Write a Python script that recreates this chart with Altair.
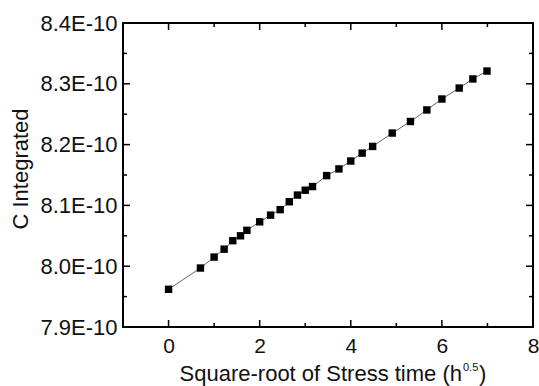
import altair as alt
import pandas as pd

# ---- data ----
x_sqrt_time = [0.0, 0.70, 1.0, 1.22, 1.41, 1.58, 1.72, 2.0, 2.24, 2.45, 2.65, 2.83, 3.0,
               3.16, 3.47, 3.74, 4.0, 4.25, 4.48, 4.91, 5.31, 5.67, 6.0, 6.38, 6.68, 6.99]
c_integrated = [7.962e-10, 7.997e-10, 8.015e-10, 8.028e-10, 8.042e-10, 8.050e-10, 8.059e-10,
                8.073e-10, 8.084e-10, 8.093e-10, 8.106e-10, 8.117e-10, 8.125e-10, 8.131e-10,
                8.149e-10, 8.160e-10, 8.173e-10, 8.186e-10, 8.197e-10, 8.219e-10, 8.238e-10,
                8.257e-10, 8.275e-10, 8.293e-10, 8.308e-10, 8.321e-10]
x_major_ticks = [0, 2, 4, 6, 8]
x_minor_ticks = [1, 3, 5, 7]
y_major_ticks = [7.9e-10, 8.0e-10, 8.1e-10, 8.2e-10, 8.3e-10, 8.4e-10]
y_minor_ticks = [7.95e-10, 8.05e-10, 8.15e-10, 8.25e-10, 8.35e-10]
x_title_main = ["Square-root of Stress time (h"]
x_title_sup = ["0.5"]
x_title_end = [")"]
y_title = ["C Integrated"]

# ---- layout ----
W, H = 410, 304
FONT = "Liberation Sans"
TXT = "#111111"
MAJ, MIN = 7, 4

df = pd.DataFrame({"x": x_sqrt_time, "c": c_integrated})
xs = alt.Scale(domain=[-1, 8], nice=False)
ys = alt.Scale(domain=[7.9e-10, 8.4e-10], nice=False, zero=False)

xaxis = alt.Axis(values=x_major_ticks, title=None, grid=False, ticks=False, domain=False,
                 labelFontSize=21, labelPadding=8, labelFlush=False, labelFont=FONT,
                 labelColor=TXT, format="d", labelOverlap=False)
yaxis = alt.Axis(values=y_major_ticks, title=None, grid=False, ticks=False, domain=False,
                 labelFontSize=22, labelPadding=6, labelFlush=False, labelFont=FONT,
                 labelColor=TXT, labelOverlap=False,
                 labelExpr="format(datum.value*1e10, '.1f') + 'E-10'")

line = alt.Chart(df).mark_line(color="#666666", strokeWidth=1).encode(
    x=alt.X("x:Q", scale=xs, axis=xaxis),
    y=alt.Y("c:Q", scale=ys, axis=yaxis),
)
points = alt.Chart(df).mark_point(shape="square", filled=True, size=55, color="black",
                                  opacity=1).encode(
    x=alt.X("x:Q", scale=xs, axis=xaxis),
    y=alt.Y("c:Q", scale=ys, axis=yaxis),
)


def xticks(vals, length):
    d = pd.DataFrame({"v": vals})
    bottom = alt.Chart(d).mark_rule(color="black", strokeWidth=1.5).encode(
        x=alt.X("v:Q", scale=xs, axis=xaxis), y=alt.value(H), y2=alt.value(H - length))
    top = alt.Chart(d).mark_rule(color="black", strokeWidth=1.5).encode(
        x=alt.X("v:Q", scale=xs, axis=xaxis), y=alt.value(0), y2=alt.value(length))
    return [bottom, top]


def yticks(vals, length):
    d = pd.DataFrame({"v": vals})
    left = alt.Chart(d).mark_rule(color="black", strokeWidth=1.5).encode(
        y=alt.Y("v:Q", scale=ys, axis=yaxis), x=alt.value(0), x2=alt.value(length))
    right = alt.Chart(d).mark_rule(color="black", strokeWidth=1.5).encode(
        y=alt.Y("v:Q", scale=ys, axis=yaxis), x=alt.value(W), x2=alt.value(W - length))
    return [left, right]


tick_layers = (xticks(x_major_ticks, MAJ) + xticks(x_minor_ticks, MIN)
               + yticks(y_major_ticks, MAJ) + yticks(y_minor_ticks, MIN))

title_base = 358
t_main = alt.Chart(pd.DataFrame({"t": x_title_main})).mark_text(
    font=FONT, fontSize=22, color=TXT, align="right", baseline="alphabetic").encode(
    text="t:N", x=alt.value(339), y=alt.value(title_base))
t_sup = alt.Chart(pd.DataFrame({"t": x_title_sup})).mark_text(
    font=FONT, fontSize=11, color=TXT, align="left", baseline="alphabetic").encode(
    text="t:N", x=alt.value(340), y=alt.value(title_base - 10))
t_end = alt.Chart(pd.DataFrame({"t": x_title_end})).mark_text(
    font=FONT, fontSize=22, color=TXT, align="left", baseline="alphabetic").encode(
    text="t:N", x=alt.value(356), y=alt.value(title_base))
t_y = alt.Chart(pd.DataFrame({"t": y_title})).mark_text(
    font=FONT, fontSize=22, color=TXT, align="center", baseline="alphabetic", angle=270).encode(
    text="t:N", x=alt.value(-95), y=alt.value(146))

chart = alt.layer(line, points, *tick_layers, t_main, t_sup, t_end, t_y).properties(
    width=W, height=H,
    padding={"left": 123, "top": 23, "right": 6, "bottom": 59},
    autosize=alt.AutoSizeParams(type="none"),
    background="white",
).configure_view(stroke="black", strokeWidth=2)

chart.save("out.html", embed_options={"renderer": "svg", "actions": False})
